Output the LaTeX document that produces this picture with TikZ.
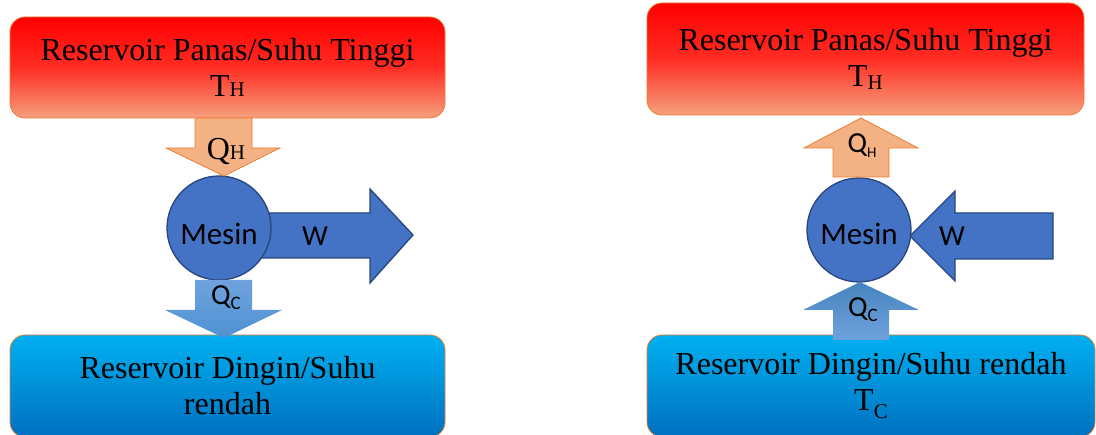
\documentclass[tikz,border=0pt]{standalone}
\usepackage{fontspec}
\setmainfont{Liberation Serif}
\newfontfamily\calibrifont{Carlito}
\usetikzlibrary{positioning}
\definecolor{borange}{RGB}{237,125,49}
\definecolor{peach}{RGB}{244,177,131}
\definecolor{mblue}{RGB}{68,114,196}
\definecolor{dblue}{RGB}{40,70,125}
\definecolor{hotbottom}{RGB}{246,160,125}
\definecolor{hotmid}{RGB}{255,45,35}
\definecolor{coldtop}{RGB}{0,176,240}
\definecolor{coldbottom}{RGB}{0,112,192}
\definecolor{qctop}{RGB}{111,162,222}
\definecolor{qcbottom}{RGB}{78,146,210}
\newcommand{\smallsub}[2]{\raisebox{#2}{\fontsize{21}{21}\selectfont #1}}
\newcommand{\sanssub}[2][15]{\raisebox{-5pt}{\fontsize{#1}{#1}\selectfont #2}}

\begin{document}
\begin{tikzpicture}[x=1pt, y=-1pt,
    reservoir/.style={rectangle, rounded corners=15pt, draw=borange, line width=0.8pt,
      align=center, inner sep=0pt, font=\fontsize{32}{36}\selectfont},
    hot/.style={reservoir, top color=red, bottom color=hotbottom, middle color=hotmid},
    cold/.style={reservoir, top color=coldtop, bottom color=coldbottom},
    engine/.style={circle, draw=dblue, line width=1.3pt, fill=mblue, minimum size=104pt,
      inner sep=0pt},
    workarrow/.style={draw=dblue, line width=1.3pt, fill=mblue},
    heatarrow/.style={draw=borange, line width=0.8pt, fill=peach},
    lbl/.style={inner sep=0pt, font=\calibrifont\fontsize{29}{29}\selectfont},
    enginelbl/.style={inner sep=0pt, font=\calibrifont\fontsize{31}{31}\selectfont}]
  \useasboundingbox (0,0) rectangle (1096,435);

  \node[hot, minimum width=435pt, minimum height=101pt] (panasA) at (227.5,67.5)
    {Reservoir Panas/Suhu Tinggi\\T\smallsub{H}{0pt}};
  \node[cold, minimum width=435pt, minimum height=102pt] (dinginA) at (227.5,386)
    {Reservoir Dingin/Suhu\\rendah};

  \draw[workarrow] (262,213) -- (370,213) -- (370,189) -- (413,235) -- (370,283)
    -- (370,258) -- (262,258) -- cycle;
  \node[engine, label={[enginelbl, yshift=-6pt]center:Mesin}] (mesinA) at (219,228) {};
  \draw[heatarrow] (195,118) -- (252,118) -- (252,148) -- (280,148) -- (224,176)
    -- (166,148) -- (195,148) -- cycle;
  \shade[top color=qctop, bottom color=qcbottom] (195,280) -- (252,280) -- (252,310)
    -- (282,310) -- (224,338) -- (165,310) -- (195,310) -- cycle;
  \node[lbl] (wA) at (315,236) {W};
  \node[inner sep=0pt, font=\fontsize{32}{32}\selectfont] (qhA) at (226,152)
    {Q\smallsub{H}{0pt}};
  \node[lbl] (qcA) at (226,298) {Q\sanssub[19]{C}};

  \node[hot, minimum width=437pt, minimum height=112pt] (panasB) at (865.5,59)
    {Reservoir Panas/Suhu Tinggi\\T\smallsub{H}{-3pt}};
  \node[cold, minimum width=448pt, minimum height=102pt] (dinginB) at (871,386)
    {Reservoir Dingin/Suhu rendah\\T\smallsub{C}{-8pt}};

  \draw[workarrow] (910,236) -- (955,191) -- (955,213) -- (1053,213) -- (1053,259)
    -- (955,259) -- (955,281) -- cycle;
  \node[engine, label={[enginelbl, yshift=-4pt]center:Mesin}] (mesinB) at (859,230) {};
  \draw[heatarrow] (833,177) -- (889,177) -- (889,148) -- (918,148) -- (861,118)
    -- (804,148) -- (833,148) -- cycle;
  \shade[top color=qcbottom!90!black, bottom color=qctop] (860,282) -- (919,310)
    -- (889,310) -- (889,340) -- (833,340) -- (833,310) -- (803,310) -- cycle;
  \node[lbl] (wB) at (952,236) {W};
  \node[lbl] (qhB) at (862,146) {Q\sanssub{H}};
  \node[lbl] (qcB) at (863,310) {Q\sanssub[19]{C}};
\end{tikzpicture}
\end{document}
